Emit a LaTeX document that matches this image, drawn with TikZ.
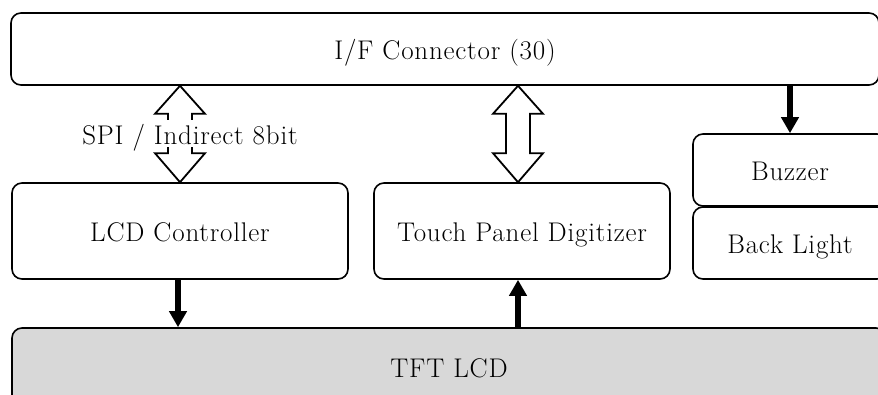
\documentclass[tikz,border=0pt]{standalone}
\usepackage{fontspec}
\setmainfont{Latin Modern Roman}[LetterSpace=3]
\usetikzlibrary{arrows.meta,calc}
\definecolor{lcdgray}{HTML}{D8D8D8}
\tikzset{
  blk/.style={draw, line width=1.6pt, rounded corners=10pt, fill=white,
    font=\fontsize{27}{32}\selectfont, inner sep=0pt, anchor=center,
    text height=20pt, text depth=0pt},
  thickarrow/.style={line width=6pt, -{Triangle[width=17pt,length=16pt]}},
  hollow/.style={draw, line width=1.8pt, fill=white, line join=miter},
  lbl/.style={fill=white, inner sep=0pt, text height=25pt, text depth=2pt,
    font=\fontsize{27}{32}\selectfont}
}
\begin{document}
\begin{tikzpicture}[x=1pt,y=-1pt]
\useasboundingbox (0,0) rectangle (878,394);
\clip (0,0) rectangle (878,394);
% boxes
\node[blk, minimum width=868pt, minimum height=72pt] (ifc) at (445,49) {I/F Connector (30)};
\node[blk, minimum width=336pt, minimum height=96pt] (lcd) at (180,231) {LCD Controller};
\node[blk, minimum width=296pt, minimum height=96pt] (touch) at (522,231) {Touch Panel Digitizer};
\node[blk, minimum width=194pt, minimum height=72pt] (buz) at (790,170) {Buzzer};
\node[blk, minimum width=194pt, minimum height=72pt] (bl) at (790,243) {Back Light};
\node[blk, fill=lcdgray, minimum width=874pt, minimum height=78pt] (tft) at (449,367) {TFT LCD};
% hollow double arrows
\coordinate (a1t) at (lcd.north |- ifc.south);
\coordinate (a1b) at (lcd.north);
\coordinate (a2t) at ([xshift=-4pt]touch.north |- ifc.south);
\coordinate (a2b) at ([xshift=-4pt]touch.north);
\foreach \t/\b in {a1t/a1b, a2t/a2b}{
  \draw[hollow] (\t) -- ++(25,28) -- ++(-13,0) -- ($(\b)+(12,-29)$) -- ++(13,0)
    -- (\b) -- ++(-25,-29) -- ++(13,0) -- ($(\t)+(-12,28)$) -- ++(-13,0) -- cycle;
}
\node[lbl] (spi) at (190,133) {SPI / Indirect 8bit};
% solid arrows
\draw[thickarrow] (buz.north |- ifc.south) -- (buz.north);
\draw[thickarrow] ([xshift=-2pt]lcd.south) -- ([xshift=-2pt]lcd.south |- tft.north);
\draw[thickarrow] ([xshift=-4pt]touch.south |- tft.north) -- ([xshift=-4pt]touch.south);
\end{tikzpicture}
\end{document}
